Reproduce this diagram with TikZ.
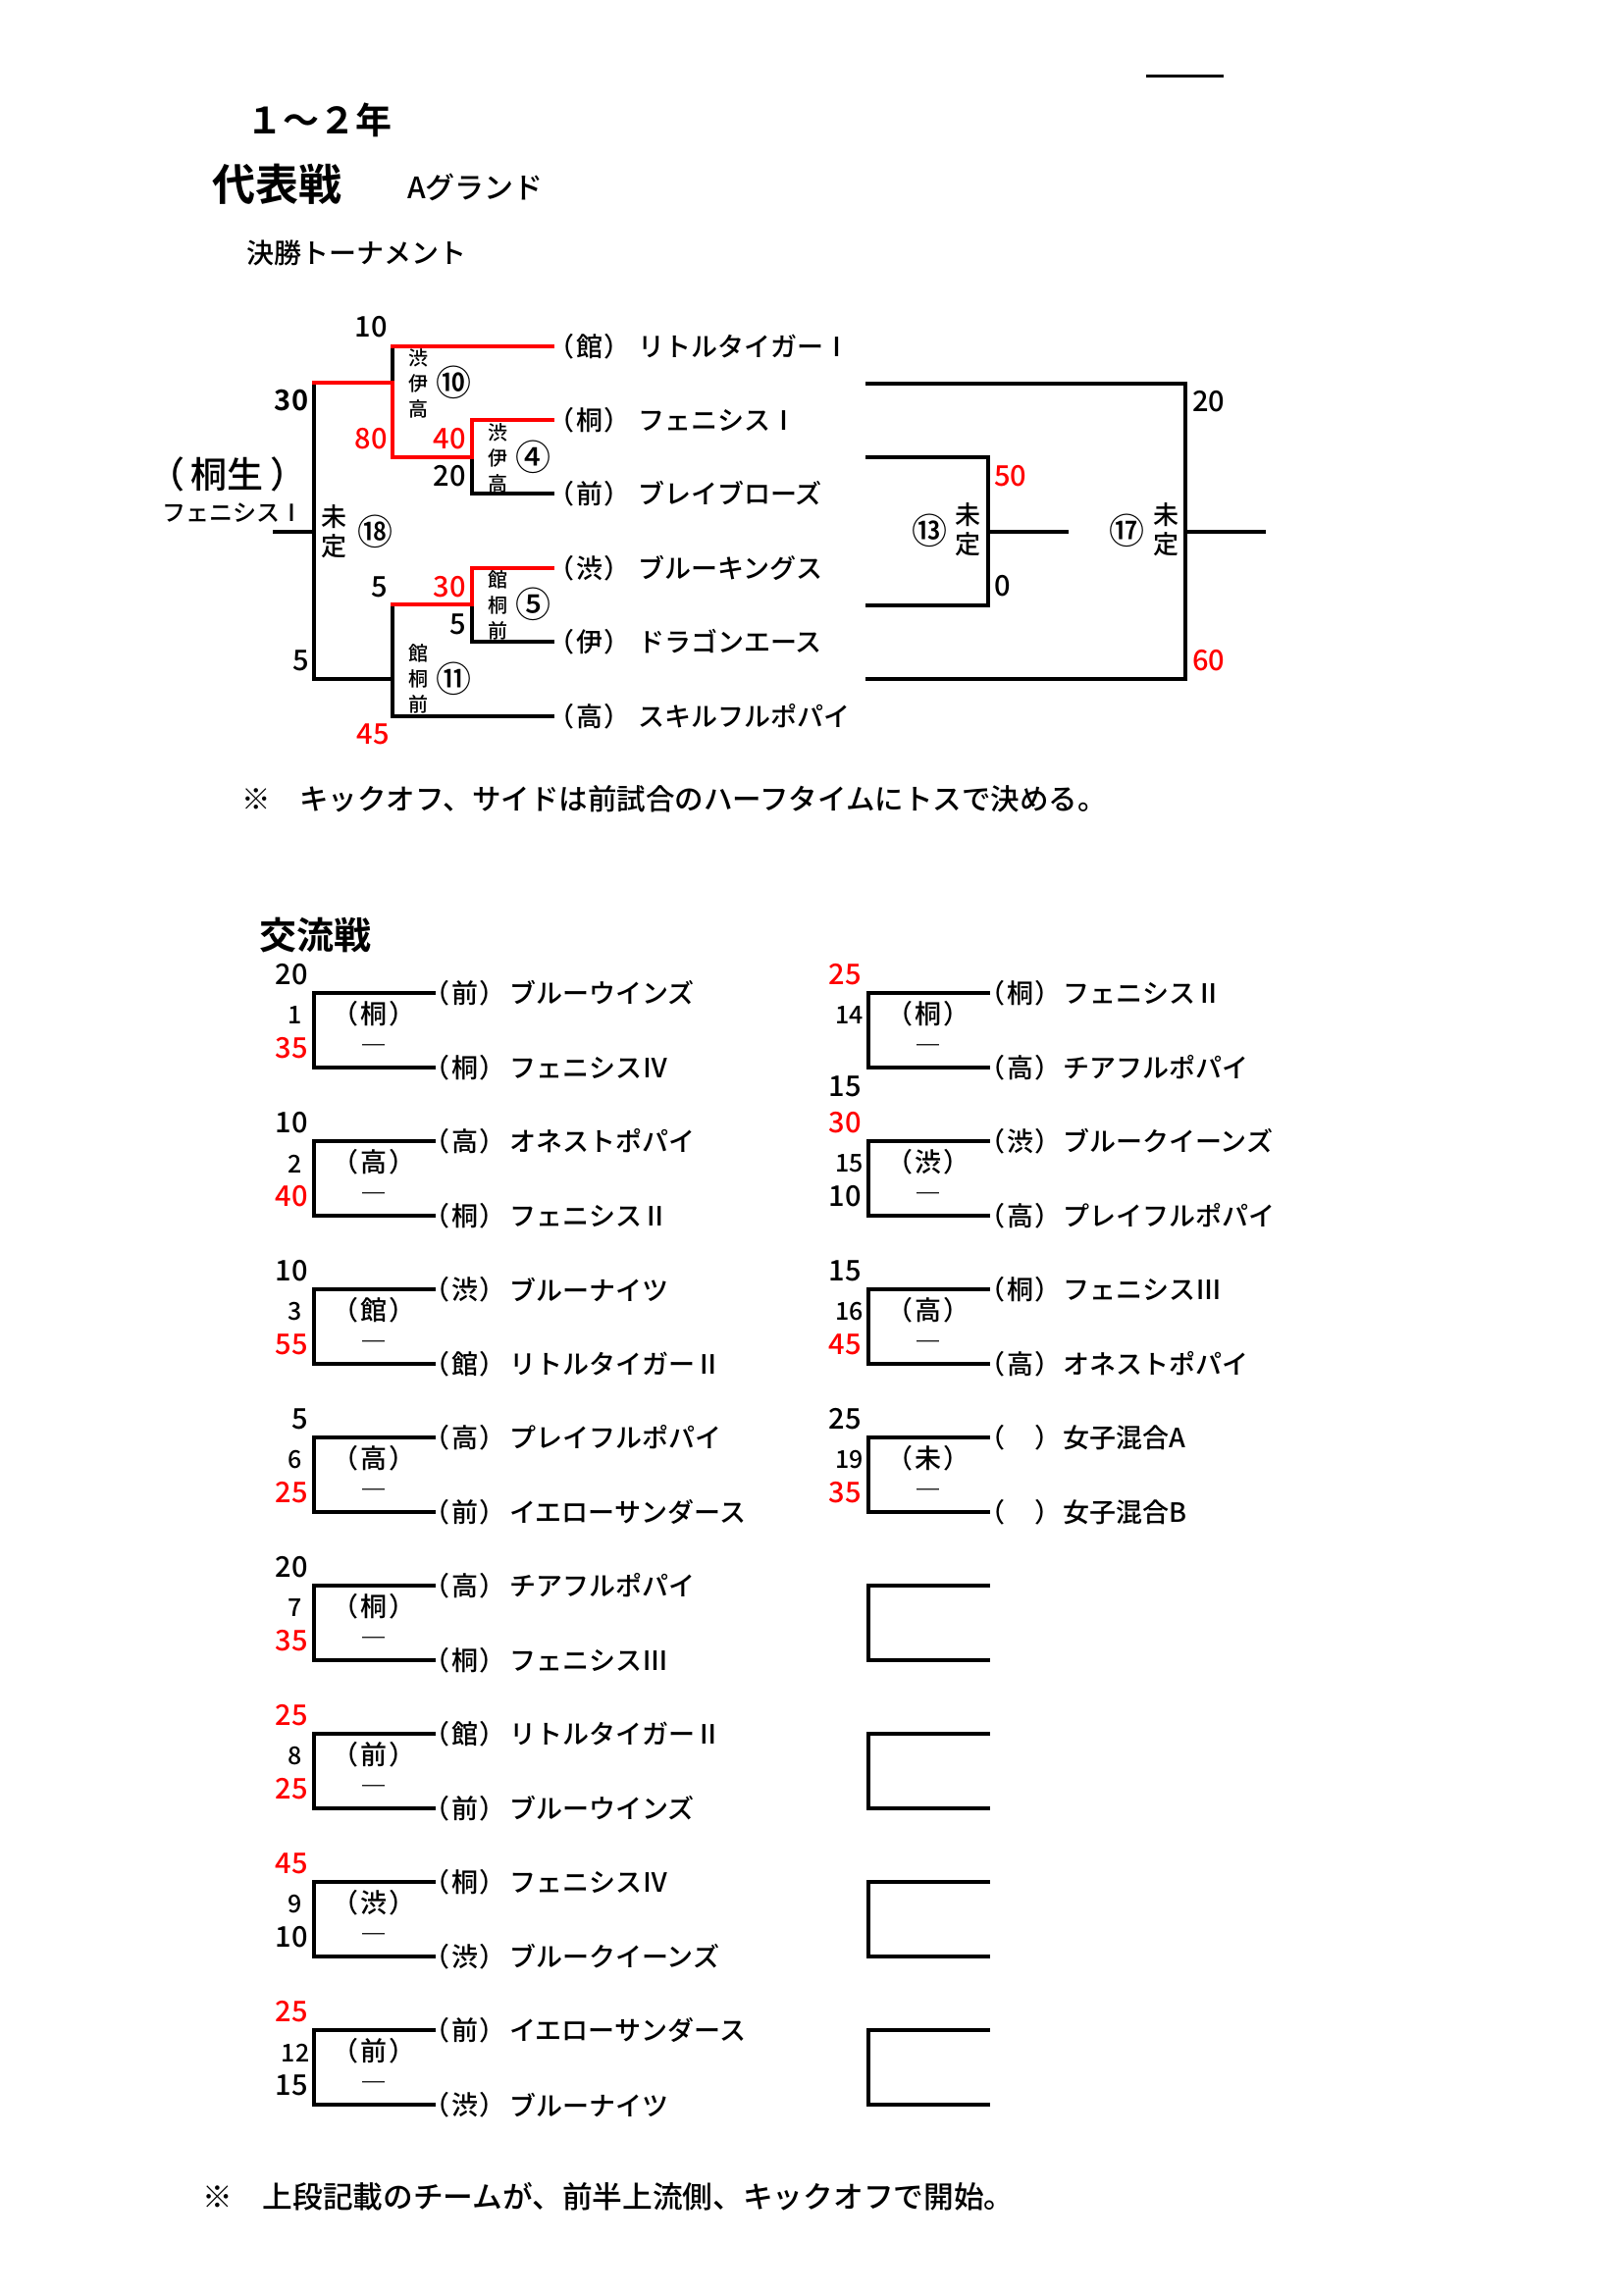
\documentclass[tikz,border=0pt]{standalone}
\usepackage{fontspec}
\setmainfont{Noto Sans CJK JP}[UprightFont={* Medium}, BoldFont={* Bold}]
\newfontfamily\jpp{Noto Sans CJK JP}[UprightFont={* Medium}, RawFeature=+palt]
\begin{document}
\begin{tikzpicture}[x=1pt,y=-1pt,
  bk/.style={line width=3.5pt, line cap=rect, line join=miter},
  rd/.style={bk, draw=red},
  sc/.style={font=\fontsize{29}{30}\selectfont, inner sep=0pt},
  mn/.style={font=\fontsize{25}{26}\selectfont, inner sep=0pt},
  tp/.style={font=\jpp\fontsize{27}{28}\selectfont, inner sep=0pt, anchor=west},
  tn/.style={font=\fontsize{27}{28}\selectfont, inner sep=0pt, anchor=west},
  hs/.style={font=\jpp\fontsize{27}{28}\selectfont, inner sep=0pt},
  vt/.style={font=\fontsize{20}{26}\selectfont, inner sep=0pt, align=center},
  vtb/.style={font=\fontsize{26}{30}\selectfont, inner sep=0pt, align=center},
  cn/.style={font=\fontsize{36}{36}\selectfont, inner sep=0pt},
  tx/.style={inner sep=0pt, anchor=west},
]
\newcommand\pr[1]{（\hspace{2.5pt}#1\hspace{2.5pt}）}
\fill[white] (0,0) rectangle (1654,2339);
\useasboundingbox (0,0) rectangle (1654,2339);

% ---------- header ----------
\coordinate (hl1) at (1168,78);
\coordinate (hl2) at (1247,78);
\draw[line width=3pt] (hl1) -- (hl2);
\node[tx, font=\bfseries\fontsize{37}{40}\selectfont] (grade) at (251,122) {１～２年};
\node[tx, font=\bfseries\fontsize{44}{46}\selectfont] (daihyo) at (216,188) {代表戦};
\node[tx, font=\fontsize{30}{32}\selectfont] (ground) at (415,191) {Aグランド};
\node[tx, font=\fontsize{28}{30}\selectfont] (kessho) at (251,258) {決勝トーナメント};

% ---------- final tournament: left half ----------
\foreach \k/\y/\h/\n in {1/353/館/リトルタイガーⅠ, 2/428/桐/フェニシスⅠ, 3/503/前/ブレイブローズ,
                          4/579/渋/ブルーキングス, 5/654/伊/ドラゴンエース, 6/730/高/スキルフルポパイ}{
  \coordinate (e\k) at (563,\y);
  \node[tp] (tp\k) at (571,\y) {\pr{\h}};
  \node[tn] (tn\k) at (650,\y) {\n};
}
% black parts
\draw[bk] (400,353) -- (400,390);
\draw[bk] (481,466) -- (481,503) -- (e3);
\draw[bk] (320,390) -- (320,692) -- (400,692);
\coordinate (champ) at (280,542);
\draw[bk] (champ) -- (320,542);
\draw[bk] (400,616) -- (400,730) -- (e6);
\draw[bk] (481,616) -- (481,654) -- (e5);
% red parts
\draw[rd] (e1) -- (400,353);
\draw[rd] (320,390) -- (400,390) -- (400,466) -- (481,466) -- (481,428) -- (e2);
\draw[rd] (400,616) -- (481,616) -- (481,579) -- (e4);

% labels
\node[sc] (s10a) at (378,333) {10};
\node[sc, font=\bfseries\fontsize{29}{30}\selectfont] (s18a) at (297,408) {30};
\node[sc, text=red] (s10b) at (378,447) {80};
\node[sc, text=red] (s4a) at (458,447) {40};
\node[sc] (s4b) at (458,485) {20};
\node[inner sep=0pt, font=\jpp\fontsize{37}{40}\selectfont] (kiryu) at (232,483) {（\hspace{8pt}桐生\hspace{8pt}）};
\node[inner sep=0pt, font=\fontsize{24}{26}\selectfont] (phx) at (237,523) {フェニシスⅠ};
\node[vtb] (m18) at (340,542) {未\\定};
\node[cn] (c18) at (382,542) {⑱};
\node[vt] (v10) at (426,391) {渋\\伊\\高};
\node[cn] (c10) at (462,390) {⑩};
\node[vt] (v4) at (507,467) {渋\\伊\\高};
\node[cn] (c4) at (543,466) {④};
\node[sc] (s11a) at (387,598) {5};
\node[sc, text=red] (s5a) at (458,598) {30};
\node[sc] (s5b) at (467,636) {5};
\node[vt] (v5) at (507,617) {館\\桐\\前};
\node[cn] (c5) at (543,616) {⑤};
\node[vt] (v11) at (426,692) {館\\桐\\前};
\node[cn] (c11) at (462,692) {⑪};
\node[sc] (s18b) at (307,673) {5};
\node[sc, text=red] (s11b) at (380,748) {45};

% ---------- final tournament: right half ----------
\coordinate (r1) at (884,391);
\coordinate (r2) at (884,692);
\coordinate (r3) at (884,466);
\coordinate (r4) at (884,617);
\coordinate (w17) at (1288,542);
\coordinate (w13) at (1087,542);
\draw[bk] (r1) -- (1208,391) -- (1208,692) -- (r2);
\draw[bk] (1208,542) -- (w17);
\draw[bk] (r3) -- (1007,466) -- (1007,617) -- (r4);
\draw[bk] (1007,542) -- (w13);
\node[sc, anchor=west] (s17a) at (1215,409) {20};
\node[sc, anchor=west, text=red] (s13a) at (1013,485) {50};
\node[sc, anchor=west] (s13b) at (1013,597) {0};
\node[sc, anchor=west, text=red] (s17b) at (1215,673) {60};
\node[cn] (c13) at (947,541) {⑬};
\node[vtb] (m13) at (986,540) {未\\定};
\node[cn] (c17) at (1148,541) {⑰};
\node[vtb] (m17) at (1188,540) {未\\定};

\node[tx, font=\fontsize{29.5}{30}\selectfont] (note1) at (246,814) {※　キックオフ、サイドは前試合のハーフタイムにトスで決める。};

% ---------- exchange matches ----------
\node[tx, font=\bfseries\fontsize{38}{40}\selectfont] (koryu) at (264,953) {交流戦};

% left column
\foreach \i/\ts/\tc/\m/\bs/\bc/\h/\pa/\na/\pb/\nb in {
  0/20/black/1/35/red/桐/前/ブルーウインズ/桐/フェニシスⅣ,
  1/10/black/2/40/red/高/高/オネストポパイ/桐/フェニシスⅡ,
  2/10/black/3/55/red/館/渋/ブルーナイツ/館/リトルタイガーⅡ,
  3/5/black/6/25/red/高/高/プレイフルポパイ/前/イエローサンダース,
  4/20/black/7/35/red/桐/高/チアフルポパイ/桐/フェニシスⅢ,
  5/25/red/8/25/red/前/館/リトルタイガーⅡ/前/ブルーウインズ,
  6/45/red/9/10/black/渋/桐/フェニシスⅣ/渋/ブルークイーンズ,
  7/25/red/12/15/black/前/前/イエローサンダース/渋/ブルーナイツ}{
  \pgfmathsetmacro\yt{1012+151*\i}
  \pgfmathsetmacro\yb{\yt+76}
  \coordinate (La\i) at (442,\yt);
  \coordinate (Lb\i) at (442,\yb);
  \draw[bk] (La\i) -- (320,\yt) -- (320,\yb) -- (Lb\i);
  \node[sc, anchor=east, text=\tc] (Lts\i) at (314,{\yt-19}) {\ts};
  \node[mn] (Lm\i) at (301,{\yt+23}) {\m};
  \node[sc, anchor=east, text=\bc] (Lbs\i) at (314,{\yt+56}) {\bs};
  \node[hs] (Lh\i) at (381,{\yt+21}) {\pr{\h}};
  \node[hs, font=\bfseries\fontsize{27}{28}\selectfont] (Ld\i) at (381,{\yt+58}) {―};
  \node[tp] (Lpa\i) at (444,\yt) {\pr{\pa}};
  \node[tn] (Lna\i) at (519,\yt) {\na};
  \node[tp] (Lpb\i) at (444,\yb) {\pr{\pb}};
  \node[tn] (Lnb\i) at (519,\yb) {\nb};
}

% right column
\foreach \i/\ts/\tc/\m/\bs/\bc/\bo/\h/\pa/\na/\pb/\nb in {
  0/25/red/14/15/black/95/桐/桐/フェニシスⅡ/高/チアフルポパイ,
  1/30/red/15/10/black/56/渋/渋/ブルークイーンズ/高/プレイフルポパイ,
  2/15/black/16/45/red/56/高/桐/フェニシスⅢ/高/オネストポパイ,
  3/25/black/19/35/red/56/未/　/女子混合A/　/女子混合B}{
  \pgfmathsetmacro\yt{1012+151*\i}
  \pgfmathsetmacro\yb{\yt+76}
  \coordinate (Ra\i) at (1007,\yt);
  \coordinate (Rb\i) at (1007,\yb);
  \draw[bk] (Ra\i) -- (885,\yt) -- (885,\yb) -- (Rb\i);
  \node[sc, anchor=east, text=\tc] (Rts\i) at (878,{\yt-19}) {\ts};
  \node[mn, anchor=east] (Rm\i) at (880,{\yt+23}) {\m};
  \node[sc, anchor=east, text=\bc] (Rbs\i) at (878,{\yt+\bo}) {\bs};
  \node[hs] (Rh\i) at (946,{\yt+21}) {\pr{\h}};
  \node[hs, font=\bfseries\fontsize{27}{28}\selectfont] (Rd\i) at (946,{\yt+58}) {―};
  \node[tp] (Rpa\i) at (1010,\yt) {\pr{\pa}};
  \node[tn] (Rna\i) at (1083,\yt) {\na};
  \node[tp] (Rpb\i) at (1010,\yb) {\pr{\pb}};
  \node[tn] (Rnb\i) at (1083,\yb) {\nb};
}
% empty brackets
\foreach \i in {4,5,6,7}{
  \pgfmathsetmacro\yt{1012+151*\i}
  \pgfmathsetmacro\yb{\yt+76}
  \coordinate (Ra\i) at (1007,\yt);
  \coordinate (Rb\i) at (1007,\yb);
  \draw[bk] (Ra\i) -- (885,\yt) -- (885,\yb) -- (Rb\i);
}

\node[tx, font=\fontsize{30.7}{32}\selectfont] (note2) at (206,2239) {※　上段記載のチームが、前半上流側、キックオフで開始。};
\end{tikzpicture}
\end{document}
